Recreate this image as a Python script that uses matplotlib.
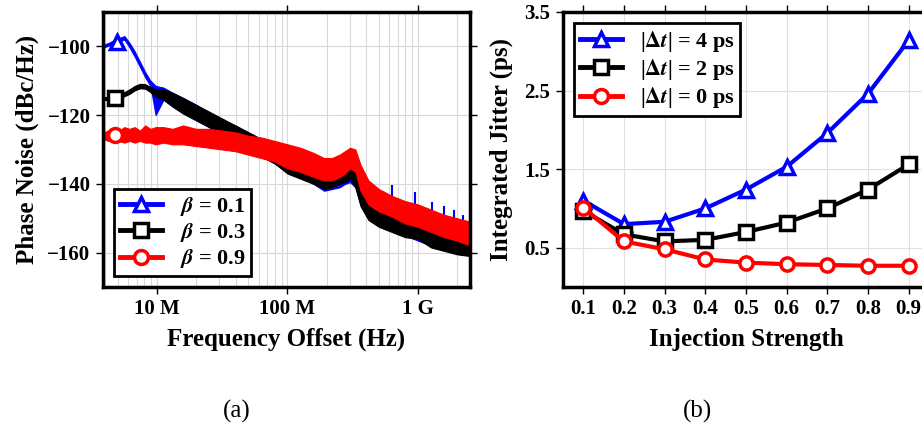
import numpy as np
import matplotlib
matplotlib.use("Agg")
import matplotlib.pyplot as plt
from matplotlib.lines import Line2D
from matplotlib.ticker import FixedLocator, FixedFormatter

plt.rcParams["font.family"] = ["Liberation Serif", "DejaVu Serif"]
plt.rcParams["font.weight"] = "bold"
plt.rcParams["axes.labelweight"] = "bold"
plt.rcParams["mathtext.fontset"] = "stix"

# ---- (a) phase noise: band envelopes ----
log_f = [6.59, 6.63, 6.67, 6.71, 6.75, 6.79, 6.83, 6.87, 6.91, 6.95,
         6.99, 7.05, 7.12, 7.2, 7.3, 7.4, 7.5, 7.6, 7.7, 7.8,
         7.9, 8.0, 8.1, 8.2, 8.28, 8.34, 8.4, 8.44, 8.48, 8.52,
         8.56, 8.62, 8.7, 8.8, 8.9, 9.0, 9.1, 9.2, 9.3, 9.4]

blue_lo = [-100.3, -99.8, -99.0, -98.6, -98.0, -100.3, -103.0, -106.0, -109.0, -111.5,
           -120.0, -115.5, -117.5, -119.5, -121.5, -123.5, -126.0, -128.0, -130.0, -132.0,
           -134.0, -136.5, -138.0, -140.0, -142.0, -141.5, -141.0, -140.0, -139.5, -141.0,
           -146.0, -150.0, -151.5, -153.5, -155.0, -156.5, -158.0, -159.0, -160.0, -160.5]
blue_hi = [-99.5, -99.0, -98.2, -97.6, -97.0, -99.0, -101.5, -104.5, -107.5, -110.0,
           -111.5, -112.0, -113.5, -115.0, -117.0, -119.5, -121.5, -123.0, -125.0, -127.0,
           -129.0, -131.0, -133.0, -135.0, -136.5, -136.0, -134.0, -132.5, -132.0, -133.0,
           -139.0, -143.0, -145.0, -146.5, -148.5, -150.0, -151.5, -152.5, -153.5, -154.5]

black_lo = [-115.6, -115.6, -115.5, -115.2, -114.5, -113.8, -112.8, -112.2, -112.3, -113.3,
            -114.6, -115.5, -117.5, -119.5, -121.5, -123.5, -126.0, -128.0, -130.0, -132.0,
            -134.0, -137.0, -138.5, -140.0, -141.5, -141.0, -140.0, -139.5, -138.5, -141.0,
            -146.5, -150.5, -152.5, -154.0, -155.5, -156.0, -158.5, -159.5, -160.5, -161.0]
black_hi = [-114.8, -114.7, -114.6, -114.2, -113.3, -112.5, -111.5, -110.9, -111.0, -111.8,
            -112.5, -112.5, -113.5, -115.0, -117.0, -119.0, -121.0, -123.0, -125.0, -127.0,
            -129.0, -131.0, -133.0, -135.0, -136.5, -136.0, -134.0, -133.0, -133.0, -134.5,
            -140.0, -144.0, -146.0, -147.5, -149.0, -149.5, -151.5, -153.0, -154.0, -155.0]

red_lo = [-127.0, -127.5, -127.0, -127.5, -128.0, -127.5, -128.0, -127.5, -128.0, -128.0,
          -128.5, -128.0, -128.5, -128.5, -129.0, -129.5, -130.0, -130.5, -131.5, -132.5,
          -133.5, -135.5, -136.5, -138.0, -139.0, -139.0, -138.0, -137.0, -135.5, -136.5,
          -142.0, -146.0, -148.0, -149.5, -151.5, -152.5, -154.0, -155.5, -156.5, -158.0]
red_hi = [-125.0, -124.5, -124.0, -124.5, -123.5, -124.0, -123.5, -124.5, -123.0, -124.0,
          -123.5, -123.5, -124.0, -123.0, -124.0, -124.0, -124.5, -125.0, -126.0, -126.5,
          -127.5, -128.5, -129.5, -131.0, -132.5, -132.5, -131.5, -130.5, -129.5, -130.0,
          -134.5, -139.0, -141.5, -143.5, -145.0, -146.0, -147.5, -149.0, -150.0, -151.0]

# blue spurs poking above the red band
spur_f = [630e6, 948e6, 1.28e9, 1.58e9, 1.9e9, 2.2e9]
spur_top = [-140.3, -142.3, -145.3, -146.5, -147.5, -149.0]

# marker positions at the start of each trace
mark_f = [4.93e6, 4.8e6, 4.8e6]
mark_pn = [-98.8, -115.0, -125.7]

betas = ["0.1", "0.3", "0.9"]

# ---- (b) integrated jitter ----
inj = [0.1, 0.2, 0.3, 0.4, 0.5, 0.6, 0.7, 0.8, 0.9]
jit_4ps = [1.10, 0.80, 0.83, 1.00, 1.24, 1.53, 1.96, 2.46, 3.14]
jit_2ps = [0.97, 0.67, 0.58, 0.60, 0.70, 0.82, 1.00, 1.24, 1.56]
jit_0ps = [1.01, 0.58, 0.48, 0.35, 0.31, 0.29, 0.28, 0.27, 0.27]
dts = ["4", "2", "0"]

colors = ["#0000ff", "black", "#ff0000"]
markers = ["^", "s", "o"]

fig = plt.figure(figsize=(9.22, 4.30), dpi=100)
axa = fig.add_axes([0.1117, 0.3326, 0.398, 0.6395])
axb = fig.add_axes([0.6106, 0.3326, 0.397, 0.6395])

f = 10 ** np.array(log_f)
axa.vlines(spur_f, np.array(spur_top) - 8, spur_top, color=colors[0], lw=1.5, zorder=1.9)
for lo, hi, col in [(blue_lo, blue_hi, colors[0]),
                    (black_lo, black_hi, colors[1]),
                    (red_lo, red_hi, colors[2])]:
    axa.fill_between(f, lo, hi, color=col, lw=0.8, edgecolor=col, zorder=2)
for i in range(3):
    axa.plot(mark_f[i], mark_pn[i], markers[i], color=colors[i], mfc="white",
             ms=10, mew=2.5, zorder=5)

axa.set_xscale("log")
axa.set_xlim(3.86e6, 2.5e9)
axa.set_ylim(-170, -90)
axa.xaxis.set_major_locator(FixedLocator([1e7, 1e8, 1e9]))
axa.xaxis.set_major_formatter(FixedFormatter(["10 M", "100 M", "1 G"]))
axa.set_yticks([-100, -120, -140, -160])
axa.grid(which="both", axis="x", color="#d8d8d8", lw=0.8)
axa.grid(which="major", axis="y", color="#d8d8d8", lw=0.8)
axa.set_axisbelow(True)
axa.set_xlabel("Frequency Offset (Hz)", fontsize=18, labelpad=6)
axa.set_ylabel("Phase Noise (dBc/Hz)", fontsize=18, labelpad=6)
hands = [Line2D([], [], color=colors[i], marker=markers[i], mfc="white", ms=10,
                mew=2.5, lw=3.5) for i in range(3)]
leg = axa.legend(hands, [r"$\beta$ = " + b for b in betas], loc="lower left",
                 fontsize=16, frameon=True, fancybox=False, framealpha=1,
                 edgecolor="black", handlelength=1.9, borderaxespad=0.5,
                 labelspacing=0.15, borderpad=0.25)
leg.get_frame().set_linewidth(2)

for ys, col, mk in [(jit_4ps, colors[0], "^"), (jit_2ps, colors[1], "s"),
                    (jit_0ps, colors[2], "o")]:
    axb.plot(inj, ys, marker=mk, color=col, mfc="white", ms=9.5, mew=2.5, lw=3,
             clip_on=False, zorder=4)
axb.set_xlim(0.05, 0.95)
axb.set_ylim(0, 3.5)
axb.set_xticks(inj)
axb.set_yticks([0.5, 1.5, 2.5, 3.5])
axb.grid(color="#e0e0e0", lw=0.8)
axb.set_axisbelow(True)
axb.set_xlabel("Injection Strength", fontsize=18, labelpad=6)
axb.set_ylabel("Integrated Jitter (ps)", fontsize=18, labelpad=8)
hands = [Line2D([], [], color=colors[i], marker=markers[i], mfc="white", ms=10,
                mew=2.5, lw=3.5) for i in range(3)]
leg = axb.legend(hands, [r"|$\Delta t$| = " + d + " ps" for d in dts], loc="upper left",
                 fontsize=16, frameon=True, fancybox=False, framealpha=1,
                 edgecolor="black", handlelength=1.9, borderaxespad=0.5,
                 labelspacing=0.15, borderpad=0.25)
leg.get_frame().set_linewidth(2)

for ax in (axa, axb):
    for s in ax.spines.values():
        s.set_linewidth(2.5)
    ax.tick_params(which="major", direction="out", length=5, width=1,
                   labelsize=15, top=True, right=True, pad=4)
    ax.tick_params(which="minor", length=0)

fig.text(0.257, 0.03, "(a)", fontsize=18, fontweight="normal", ha="center")
fig.text(0.756, 0.03, "(b)", fontsize=18, fontweight="normal", ha="center")

fig.savefig("out.png", dpi=100)
